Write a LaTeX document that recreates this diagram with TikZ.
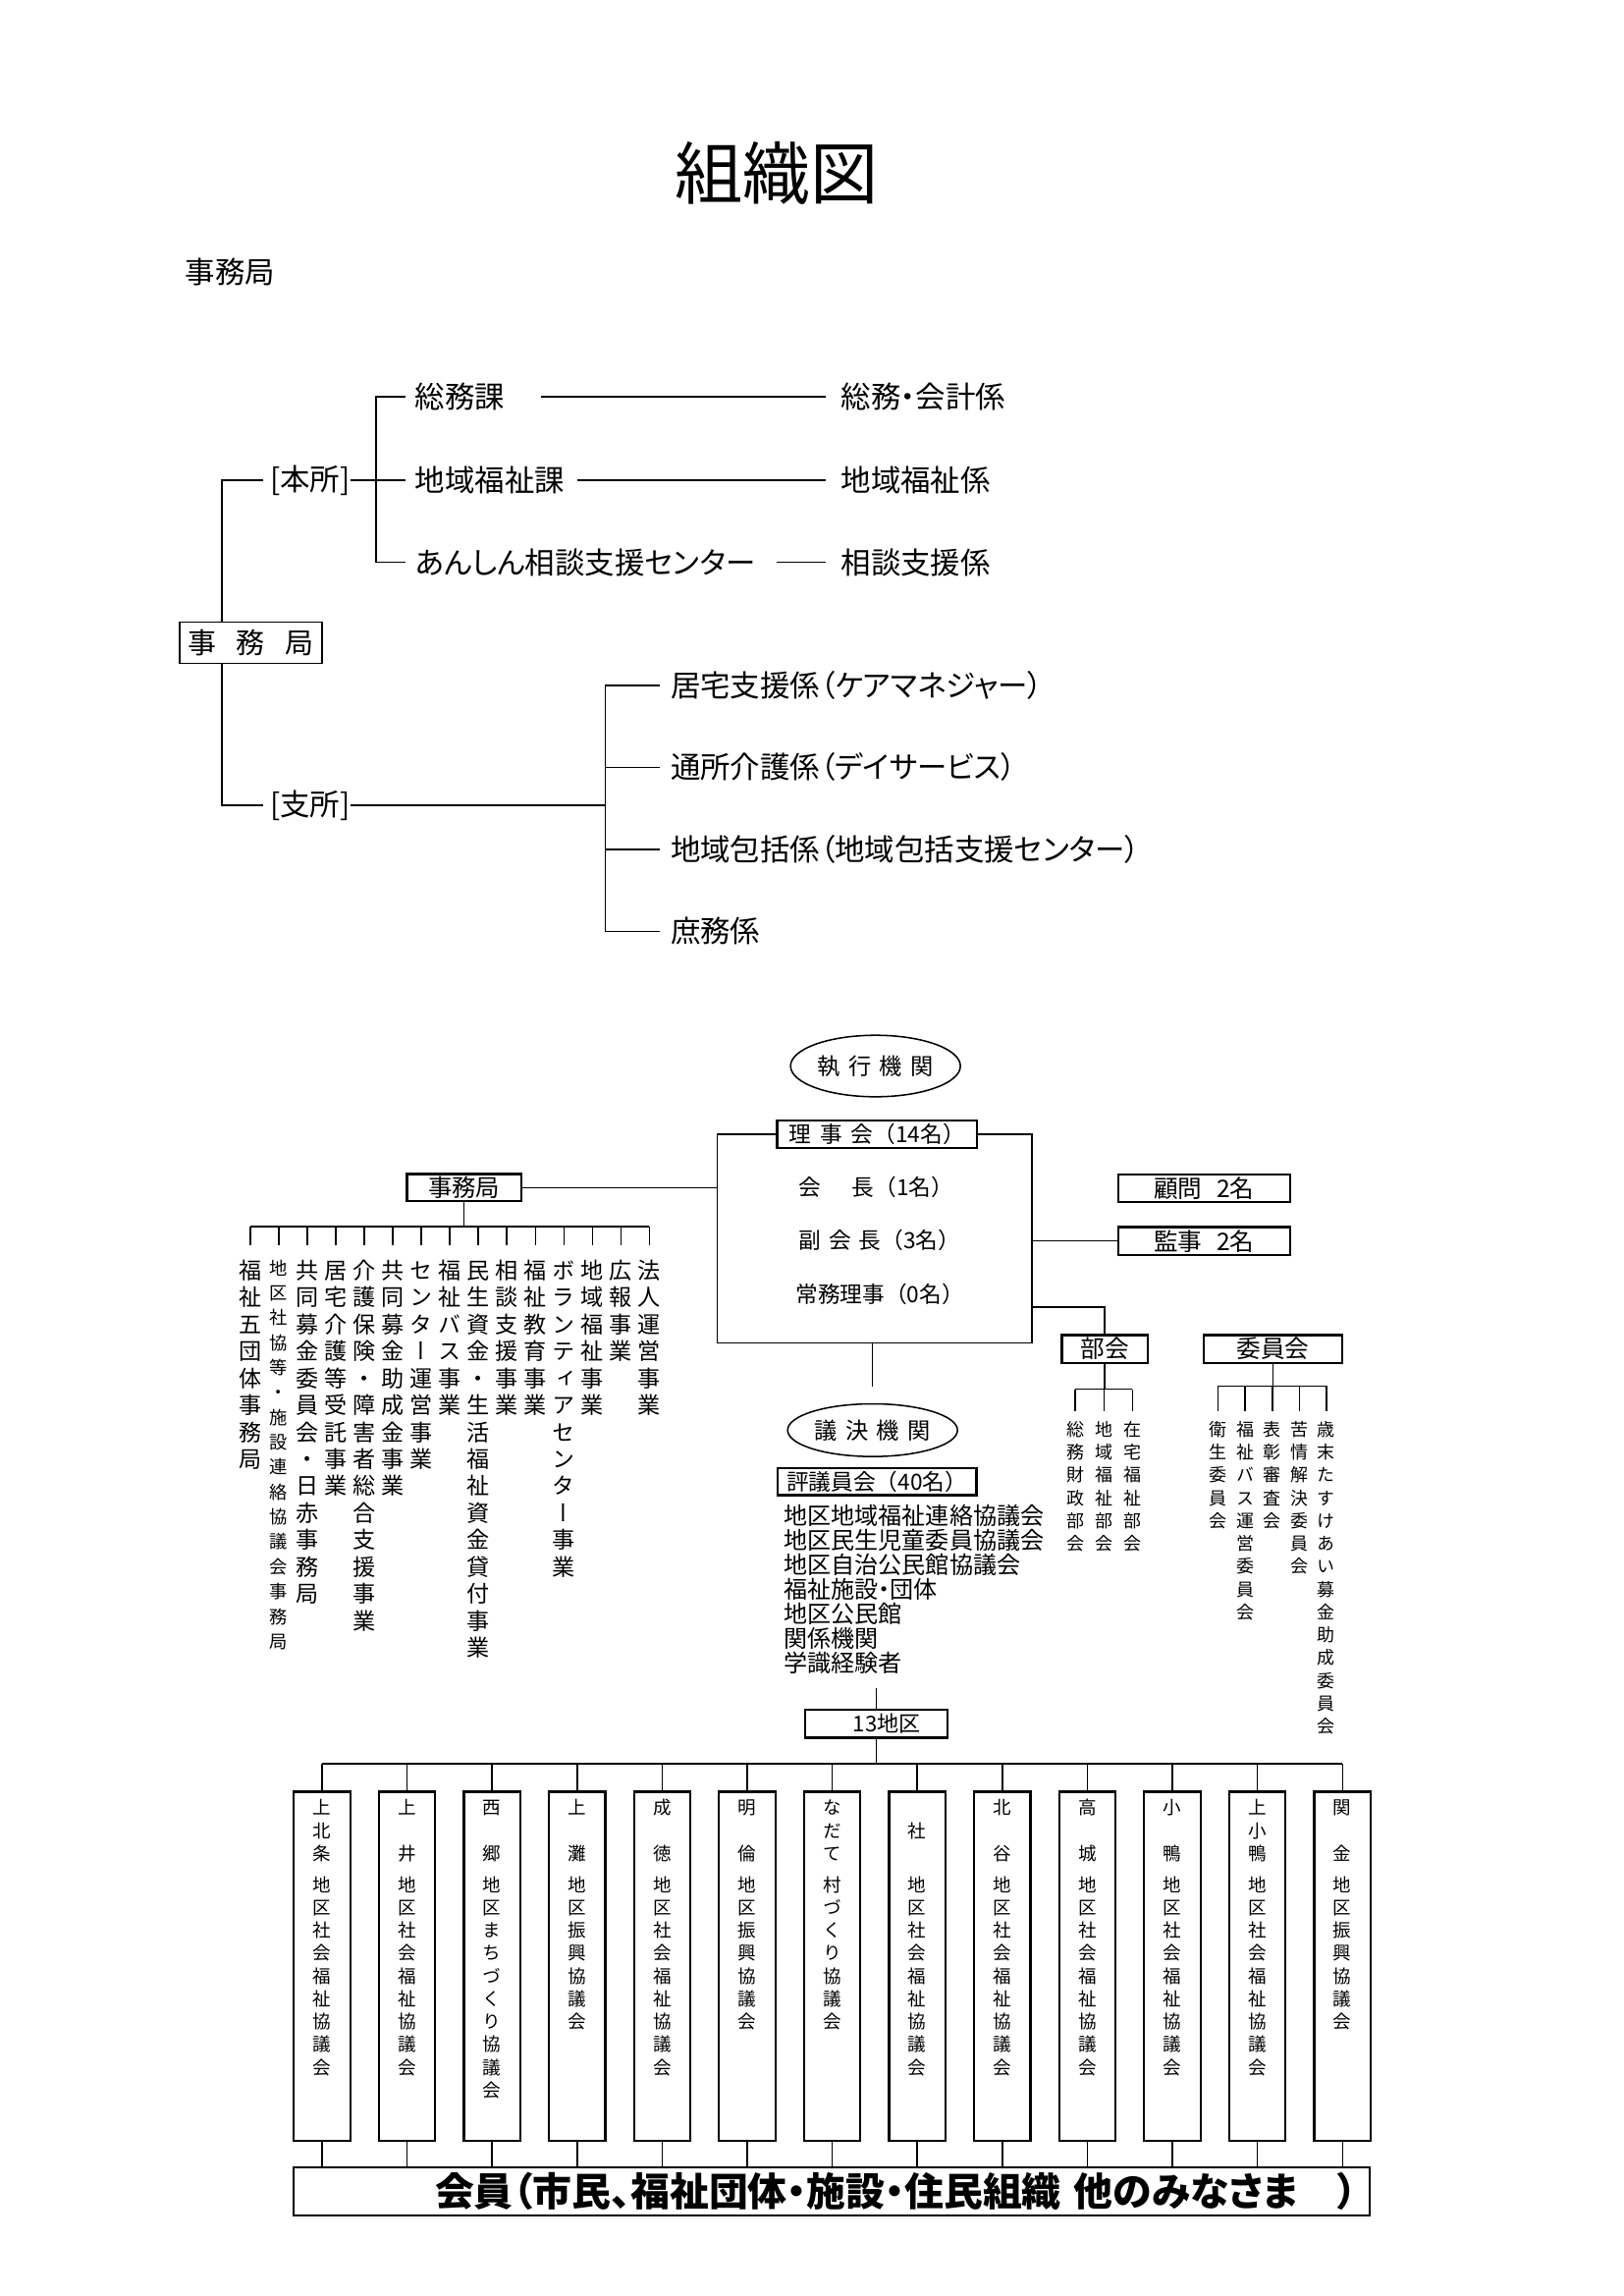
\documentclass[tikz,border=0pt]{standalone}
\usepackage{fontspec}
\setmainfont{Noto Sans CJK JP}
\newfontfamily\jpprop{Noto Sans CJK JP}[RawFeature=+palt]
\newfontfamily\jpvert{Noto Sans CJK JP}[RawFeature=+vert]
\usetikzlibrary{shapes.geometric}
\newdimen\unitpx \unitpx=0.5388pt

% vertical text: one character per line, fixed pitch
\makeatletter
\newcommand\vstack[2][1.2em]{%
  \edef\vst@list{#2}%
  \vbox{\baselineskip=#1\lineskiplimit=-\maxdimen\lineskip=0pt
    \expandafter\vst@loop\vst@list\relax}}
\def\vst@loop#1{%
  \ifx#1\relax\else
    \hbox to 1em{\hss\vrule height .88em depth .12em width 0pt\relax#1\hss}%
    \expandafter\vst@loop
  \fi}
\makeatother

\tikzset{
  boxed/.style={draw, line width=0.8pt, inner sep=0pt},
  treetext/.style={inner sep=0pt, font=\jpprop\fontsize{11pt}{13pt}\selectfont},
  frametext/.style={inner sep=0pt, anchor=west, font=\fontsize{8.2pt}{10pt}\selectfont},
  vcol/.style={inner sep=0pt, anchor=north, font=\jpvert\fontsize{8.35pt}{10pt}\selectfont},
  vsmall/.style={inner sep=0pt, anchor=north, font=\jpvert\fontsize{6.5pt}{8pt}\selectfont},
  dcol/.style={inner sep=0pt, anchor=north, font=\jpvert\fontsize{6.7pt}{8pt}\selectfont},
  organ/.style={ellipse, draw, inner sep=0pt, minimum width=116\unitpx, minimum height=42\unitpx, font=\fontsize{8.4pt}{10pt}\selectfont},
}

\begin{document}
\begin{tikzpicture}[x=0.5388pt, y=-0.5388pt, line width=0.55pt]
  \useasboundingbox (0,0) rectangle (1109,1568);

  \node[font=\fontsize{25pt}{30pt}\selectfont] (title) at (530.5,118) {組織図};
  \node[treetext, anchor=west] (toplabel) at (126,186) {事務局};

  % office tree
  \node[treetext, anchor=west] (soumu) at (283,271) {総務課};
  \node[treetext, anchor=west] (chiiki) at (283,328) {地域福祉課};
  \node[treetext, anchor=west] (anshin) at (283,384) {あんしん相談支援センター};
  \node[treetext, anchor=west] (kaikei) at (574,271) {総務・会計係};
  \node[treetext, anchor=west] (chiikik) at (574,328) {地域福祉係};
  \node[treetext, anchor=west] (soudan) at (574,384) {相談支援係};
  \node[treetext, anchor=west] (honsho) at (184,328) {[本所]};
  \node[boxed, line width=0.55pt, minimum width=97\unitpx, minimum height=28\unitpx,
        font=\fontsize{10.5pt}{12pt}\selectfont] (jimu) at (171.3,439) {事\hspace{.7em}務\hspace{.7em}局};
  \node[treetext, anchor=west] (shisho) at (184,550) {[支所]};
  \node[treetext, anchor=west] (kyotaku) at (457.6,468) {居宅支援係（ケアマネジャー）};
  \node[treetext, anchor=west] (tsusho) at (457.6,524) {通所介護係（デイサービス）};
  \node[treetext, anchor=west] (houkatsu) at (457.6,580) {地域包括係（地域包括支援センター）};
  \node[treetext, anchor=west] (shomu) at (457.6,636) {庶務係};

  \coordinate (hbus) at (257,0);
  \coordinate (lbus) at (151.5,0);
  \coordinate (sbus) at (413.6,0);
  \draw (honsho.east) -- ([xshift=-6\unitpx]chiiki.west);
  \draw ([xshift=-6\unitpx]soumu.west) -- (hbus |- soumu.west) -- (hbus |- anshin.west) -- ([xshift=-6\unitpx]anshin.west);
  \draw ([xshift=24\unitpx]soumu.east) -- ([xshift=-10\unitpx]kaikei.west);
  \draw ([xshift=8\unitpx]chiiki.east) -- ([xshift=-10\unitpx]chiikik.west);
  \draw ([xshift=14\unitpx]anshin.east) -- ([xshift=-10\unitpx]soudan.west);
  \draw ([xshift=-4\unitpx]honsho.west) -- (lbus |- honsho.west) -- (lbus |- jimu.north);
  \draw (lbus |- jimu.south) -- (lbus |- shisho.west) -- ([xshift=-4\unitpx]shisho.west);
  \draw (shisho.east) -- (sbus |- shisho.east);
  \draw ([xshift=-7\unitpx]kyotaku.west) -- (sbus |- kyotaku.west) -- (sbus |- shomu.west) -- ([xshift=-7\unitpx]shomu.west);
  \draw (sbus |- tsusho.west) -- ([xshift=-7\unitpx]tsusho.west);
  \draw (sbus |- houkatsu.west) -- ([xshift=-7\unitpx]houkatsu.west);

  % executive body
  \node[organ] (shikko) at (598,728) {執\hspace{.35em}行\hspace{.35em}機\hspace{.35em}関};
  \node[boxed, minimum width=136.5\unitpx, minimum height=19\unitpx,
        font=\fontsize{8.2pt}{10pt}\selectfont] (rijikai) at (599,774.5) {理\hspace{.4em}事\hspace{.4em}会（14名）};
  \coordinate (frameSW) at (490,917);
  \coordinate (frameNE) at (705,774.5);
  \draw (rijikai.west) -| (frameSW) -| (frameNE) -- (rijikai.east);
  \node[frametext] (kaicho) at (545,811) {会\hspace{1.4em}長（1名）};
  \node[frametext] (fukukaicho) at (545,847) {副\hspace{.35em}会\hspace{.35em}長（3名）};
  \node[frametext] (jomu) at (543,884) {常務理事（0名）};

  \node[boxed, minimum width=117\unitpx, minimum height=19\unitpx,
        font=\fontsize{8.9pt}{10pt}\selectfont] (komon) at (822.5,811.5) {顧問\hspace{.6em}2名};
  \node[boxed, minimum width=117\unitpx, minimum height=19\unitpx,
        font=\fontsize{8.9pt}{10pt}\selectfont] (kanji) at (822.5,847.5) {監事\hspace{.6em}2名};
  \draw (frameNE |- kanji.west) -- (kanji.west);

  % secretariat columns
  \node[boxed, minimum width=78\unitpx, minimum height=18.5\unitpx,
        font=\fontsize{8.8pt}{10pt}\selectfont] (jimu2) at (317,811) {事務局};
  \draw (jimu2.east) -- (frameSW |- jimu2.east);
  \coordinate (jbus) at (0,837.5);
  \draw (jimu2.south) -- (jimu2.south |- jbus);
  \foreach \nm/\fs/\vp [count=\i from 0] in {福祉五団体事務局/8.35/18.4,
      地区社協等・施設連絡協議会事務局/6.6/17.0, 共同募金委員会・日赤事務局/8.35/18.4,
      居宅介護等受託事業/8.35/18.4, 介護保険・障害者総合支援事業/8.35/18.4,
      共同募金助成金事業/8.35/18.4, センター運営事業/8.35/18.4, 福祉バス事業/8.35/18.4,
      民生資金・生活福祉資金貸付事業/8.35/18.4, 相談支援事業/8.35/18.4,
      福祉教育事業/8.35/18.4, ボランティアセンター事業/8.35/18.4,
      地域福祉事業/8.35/18.4, 広報事業/8.35/18.4, 法人運営事業/8.35/18.4}
  {
    \node[vcol, font=\jpvert\fontsize{\fs pt}{10pt}\selectfont] (jc\i) at (171+19.47*\i,859.3) {\vstack[\vp\unitpx]{\nm}};
    \draw (jc\i.north |- jbus) -- ([yshift=9\unitpx]jc\i.north);
  }
  \draw (jc0.north |- jbus) -- (jc14.north |- jbus);

  % sections and committees
  \node[boxed, minimum width=58.5\unitpx, minimum height=19\unitpx,
        font=\fontsize{8.9pt}{10pt}\selectfont] (bukai) at (754.6,921.2) {部会};
  \coordinate (bukaiturn) at (705,892.5);
  \draw (bukaiturn) -| (bukai.north);
  \coordinate (bkbus) at (0,948.7);
  \draw (bukai.south) -- (bukai.south |- bkbus);
  \foreach \nm [count=\i from 0] in {総務財政部会, 地域福祉部会, 在宅福祉部会}
  {
    \node[vsmall] (bk\i) at (734.5+19.5*\i,969.6) {\vstack[15.6\unitpx]{\nm}};
    \draw (bk\i.north |- bkbus) -- ([yshift=5.6\unitpx]bk\i.north);
  }
  \draw (bk0.north |- bkbus) -- (bk2.north |- bkbus);

  \node[boxed, minimum width=94.3\unitpx, minimum height=19\unitpx,
        font=\fontsize{8.9pt}{10pt}\selectfont] (iinkai) at (869.5,921.2) {委員会};
  \coordinate (iibus) at (0,946.6);
  \draw (iinkai.south) -- (iinkai.south |- iibus);
  \foreach \nm [count=\i from 0] in {衛生委員会, 福祉バス運営委員会, 表彰審査会,
      苦情解決委員会, 歳末たすけあい募金助成委員会}
  {
    \node[vsmall] (ii\i) at (832+18.5*\i,969.6) {\vstack[15.6\unitpx]{\nm}};
    \draw (ii\i.north |- iibus) -- ([yshift=5.6\unitpx]ii\i.north);
  }
  \draw (ii0.north |- iibus) -- (ii4.north |- iibus);

  % deliberative body
  \node[organ, minimum height=36\unitpx] (giketsu) at (596,976.7) {議\hspace{.35em}決\hspace{.35em}機\hspace{.35em}関};
  \draw (giketsu.north |- frameSW) -- ([yshift=11\unitpx]giketsu.north);
  \node[boxed, minimum width=136\unitpx, minimum height=18.6\unitpx,
        font=\fontsize{8.2pt}{10pt}\selectfont] (hyogi) at (599,1011.7) {評議員会（40名）};
  \node[inner sep=0pt, anchor=north west, align=left,
        font=\jpprop\fontsize{8.7pt}{9.05pt}\selectfont] (hyogilist) at (535,1027)
    {地区地域福祉連絡協議会\\地区民生児童委員協議会\\地区自治公民館協議会\\福祉施設・団体\\地区公民館\\関係機関\\学識経験者};

  \node[boxed, minimum width=97.2\unitpx, minimum height=19\unitpx,
        font=\fontsize{8pt}{10pt}\selectfont] (chiku) at (598.4,1177.2) {　13地区};
  \draw (chiku.north) -- ([yshift=-9\unitpx]chiku.north |- hyogilist.south);

  % districts
  \node[boxed, minimum width=735.4\unitpx, minimum height=32.7\unitpx, text width=717.4\unitpx,
        inner xsep=9\unitpx, align=right, font=\jpprop\bfseries\fontsize{14.4pt}{16pt}\selectfont]
    (kaiin) at (568,1496.4) {会員（市民、福祉団体・施設・住民組織 他のみなさま　）};
  \coordinate (dbus) at (0,1204.6);
  \draw (chiku.south) -- (chiku.south |- dbus);
  \foreach \nm/\suf [count=\i from 0] in {上北条/地区社会福祉協議会, 上　井/地区社会福祉協議会,
      西　郷/地区まちづくり協議会, 上　灘/地区振興協議会, 成　徳/地区社会福祉協議会,
      明　倫/地区振興協議会, なだて/村づくり協議会, 　社　/地区社会福祉協議会,
      北　谷/地区社会福祉協議会, 高　城/地区社会福祉協議会, 小　鴨/地区社会福祉協議会,
      上小鴨/地区社会福祉協議会, 関　金/地区振興協議会}
  {
    \node[boxed, minimum width=38.5\unitpx, minimum height=238.4\unitpx] (d\i) at (220+58.08*\i,1342.8) {};
    \node[dcol] (dn\i) at ([yshift=-4.9\unitpx]d\i.north) {\vstack[15.6\unitpx]{\nm}};
    \node[dcol] (ds\i) at ([yshift=-57.4\unitpx]d\i.north) {\vstack[15.6\unitpx]{\suf}};
    \draw (d\i.north |- dbus) -- (d\i.north);
    \draw (d\i.south) -- (d\i.south |- kaiin.north);
  }
  \draw (d0.north |- dbus) -- (d12.north |- dbus);
\end{tikzpicture}
\end{document}
